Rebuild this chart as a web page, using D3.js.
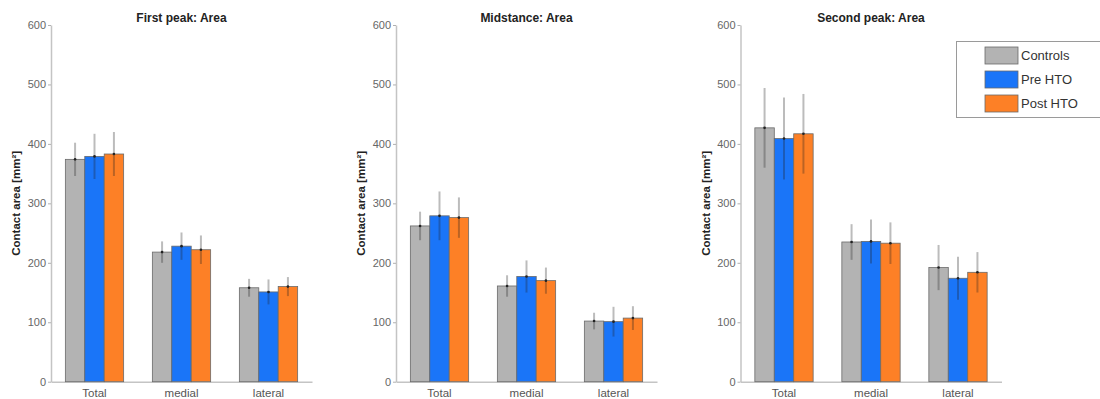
<!DOCTYPE html>
<html>
<head>
<meta charset="utf-8">
<script src="https://cdn.jsdelivr.net/npm/d3@7"></script>
<style>
  body { margin: 0; background: #fff; }
  svg { display: block; font-family: Arial, "Liberation Sans", sans-serif; }
</style>
</head>
<body>
<div id="chartDiv"></div>
<script>
const w = 1100;
const h = 399;

const categories = ["Total", "medial", "lateral"];
const groups = ["Controls", "Pre HTO", "Post HTO"];
const yTicks = [0, 100, 200, 300, 400, 500, 600];
const titles = ["First peak: Area", "Midstance: Area", "Second peak: Area"];

// means, one row per group (Controls, Pre HTO, Post HTO)
const firstPeakMean = [[374, 218, 158], [379, 228, 151], [383, 222, 160]];
const firstPeakSd = [[28, 18, 15], [38, 23, 21], [37, 24, 16]];
const midstanceMean = [[262, 161, 102], [279, 177, 101], [276, 170, 107]];
const midstanceSd = [[24, 18, 14], [41, 27, 25], [34, 22, 20]];
const secondPeakMean = [[427, 235, 192], [409, 236, 174], [417, 233, 184]];
const secondPeakSd = [[67, 30, 38], [69, 37, 36], [67, 35, 34]];

const colors = ["#b3b3b3", "#1a75f8", "#fd8026"];

const svg = d3.select("#chartDiv")
  .append("svg")
  .attr("width", w)
  .attr("height", h);

const yScale = d3.scaleLinear().domain([0, 600]).range([381.7, 25]);
const panelLefts = [51, 396, 740.5];
const axisW = 261;

const panels = [
  { title: titles[0], mean: firstPeakMean, sd: firstPeakSd },
  { title: titles[1], mean: midstanceMean, sd: midstanceSd },
  { title: titles[2], mean: secondPeakMean, sd: secondPeakSd }
];

panels.forEach((p, pi) => {
  const left = panelLefts[pi];
  const xScale = d3.scaleBand().domain(categories)
    .range([left, left + axisW]).paddingInner(0.33).paddingOuter(0.165);
  const xInner = d3.scaleBand().domain(groups).range([0, xScale.bandwidth()]);

  const g = svg.append("g");

  // y axis
  const yAxis = d3.axisLeft(yScale).tickValues(yTicks).tickSize(3).tickSizeOuter(0);
  const ya = g.append("g").attr("transform", `translate(${left},0)`).call(yAxis);
  ya.select(".domain").attr("stroke", "#c4c4c4").attr("stroke-width", 1.5);
  ya.selectAll(".tick line").attr("stroke", "#b0b0b0");
  ya.selectAll(".tick text").attr("fill", "#666").attr("font-size", 11).attr("x", -5);

  // x axis
  const xAxis = d3.axisBottom(xScale).tickSize(0).tickSizeOuter(0);
  const xa = g.append("g").attr("transform", `translate(0,${yScale(0)})`).call(xAxis);
  xa.select(".domain").attr("stroke", "#c4c4c4").attr("stroke-width", 1.5);
  xa.selectAll(".tick text").attr("fill", "#555").attr("font-size", 11.5).attr("y", 7);

  // bars
  groups.forEach((grp, gi) => {
    g.selectAll(null)
      .data(categories)
      .enter()
      .append("rect")
      .attr("x", d => xScale(d) + xInner(grp))
      .attr("width", xInner.bandwidth())
      .attr("y", (d, i) => yScale(p.mean[gi][i]))
      .attr("height", (d, i) => yScale(0) - yScale(p.mean[gi][i]))
      .attr("fill", colors[gi])
      .attr("stroke", "#6a6a6a")
      .attr("stroke-width", 0.8);
  });

  // error bars
  groups.forEach((grp, gi) => {
    const cx = d => xScale(d) + xInner(grp) + xInner.bandwidth() / 2;
    g.selectAll(null)
      .data(categories)
      .enter()
      .append("line")
      .attr("x1", cx).attr("x2", cx)
      .attr("y1", (d, i) => yScale(p.mean[gi][i] + p.sd[gi][i]))
      .attr("y2", (d, i) => yScale(p.mean[gi][i] - p.sd[gi][i]))
      .attr("stroke", "#222")
      .attr("stroke-opacity", 0.3)
      .attr("stroke-width", 2);
    g.selectAll(null)
      .data(categories)
      .enter()
      .append("circle")
      .attr("cx", cx)
      .attr("cy", (d, i) => yScale(p.mean[gi][i]))
      .attr("r", 1.3)
      .attr("fill", "#222");
  });

  // title
  g.append("text")
    .attr("x", left + axisW / 2)
    .attr("y", 22)
    .attr("text-anchor", "middle")
    .attr("font-size", 12)
    .attr("font-weight", "bold")
    .attr("fill", "#222")
    .text(p.title);

  // y label
  g.append("text")
    .attr("transform", `translate(${left - 31},${yScale(300)}) rotate(-90)`)
    .attr("text-anchor", "middle")
    .attr("font-size", 11.5)
    .attr("font-weight", "bold")
    .attr("fill", "#222")
    .text("Contact area [mm²]");
});

// legend
const legend = svg.append("g");
legend.append("rect")
  .attr("x", 956.5).attr("y", 41.5)
  .attr("width", 150).attr("height", 76)
  .attr("fill", "#fff")
  .attr("stroke", "#9a9a9a");
groups.forEach((grp, gi) => {
  legend.append("rect")
    .attr("x", 985).attr("y", 47 + gi * 24)
    .attr("width", 33).attr("height", 17)
    .attr("fill", colors[gi])
    .attr("stroke", "#6a6a6a")
    .attr("stroke-width", 0.8);
  legend.append("text")
    .attr("x", 1021).attr("y", 55.5 + gi * 24)
    .attr("dy", "0.35em")
    .attr("font-size", 13)
    .attr("fill", "#333")
    .text(grp);
});
</script>
</body>
</html>
